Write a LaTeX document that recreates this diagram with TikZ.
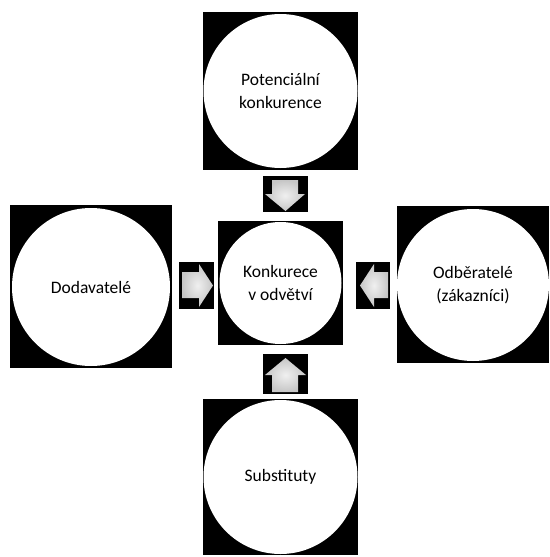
\documentclass[tikz,border=0pt]{standalone}
\usepackage{fontspec}
\setmainfont{Carlito}
\begin{document}
\begin{tikzpicture}[x=1pt,y=-1pt,
  sq/.style={fill=black},
  circ/.style={circle, fill=white, draw=none, inner sep=0pt, align=center,
    font=\fontsize{17.5}{22.5}\selectfont},
  blockarrow/.style={shade, inner color=gray!12, outer color=gray!45, draw=none}]
\useasboundingbox (0,0) rectangle (549,557);
% squares
\fill[sq] (203,12) rectangle (358,170);
\fill[sq] (10,205) rectangle (172,368);
\fill[sq] (218,221) rectangle (343,345);
\fill[sq] (397,206) rectangle (549,363);
\fill[sq] (203,399) rectangle (358,555);
% circles
\node[circ, minimum size=154pt] (top) at (280.5,91) {Potenciální\\konkurence};
\node[circ, minimum size=158pt] (left) at (91,287) {Dodavatelé};
\node[circ, minimum size=122pt] (center) at (280.5,283) {Konkurece\\v odvětví};
\node[circ, minimum size=152pt] (right) at (473,285) {Odběratelé\\(zákazníci)};
\node[circ, minimum size=154pt] (bottom) at (280.5,477) {Substituty};
% arrow backgrounds
\fill[sq] (263,176) rectangle (308,212);
\fill[sq] (179,262) rectangle (214,309);
\fill[sq] (356,262) rectangle (390,309);
\fill[sq] (263,354) rectangle (308,394);
% block arrows
\path[blockarrow] (272,180) -- (298,180) -- (298,194) -- (305,194) -- (285.5,211) -- (265,194) -- (272,194) -- cycle;
\path[blockarrow] (182,272) -- (199,272) -- (199,264) -- (213,285.5) -- (199,307) -- (199,298) -- (182,298) -- cycle;
\path[blockarrow] (388,272) -- (374,272) -- (374,264) -- (360,285.5) -- (374,307) -- (374,298) -- (388,298) -- cycle;
\path[blockarrow] (272,392) -- (298,392) -- (298,375) -- (306,375) -- (285.5,358) -- (265,375) -- (272,375) -- cycle;
\end{tikzpicture}
\end{document}
